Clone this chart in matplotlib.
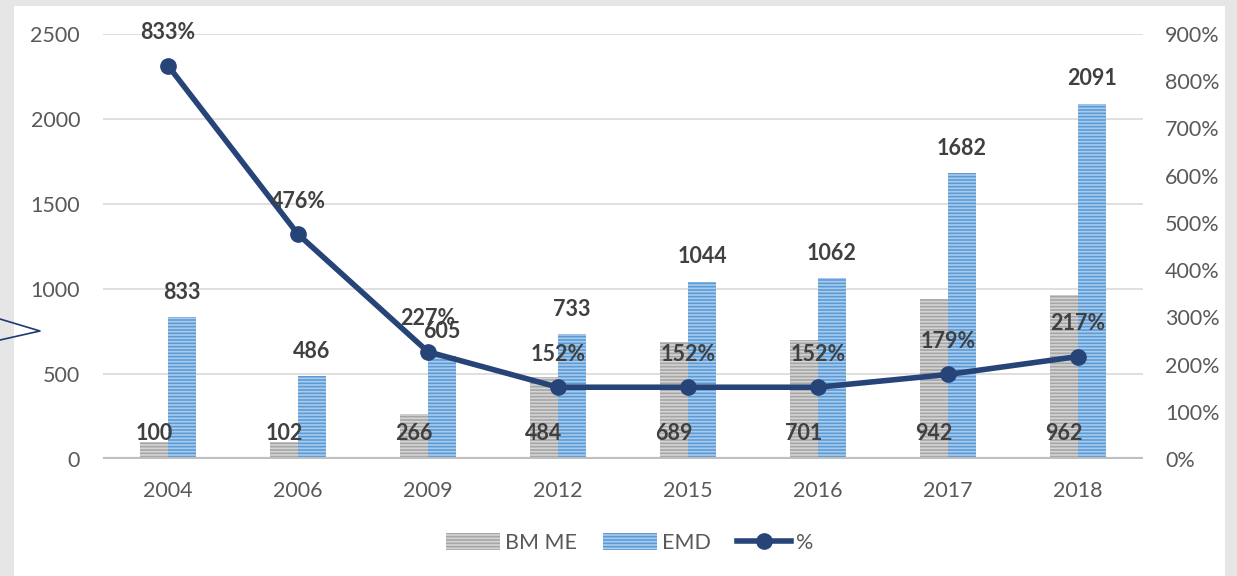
import numpy as np
import matplotlib.pyplot as plt
from matplotlib.patches import Patch, Rectangle
from matplotlib.lines import Line2D
from matplotlib.ticker import FuncFormatter

plt.rcParams['font.family'] = ['Lato', 'DejaVu Sans']
plt.rcParams['hatch.linewidth'] = 1.2

years = ['2004', '2006', '2009', '2012', '2015', '2016', '2017', '2018']
bm_me = [100, 102, 266, 484, 689, 701, 942, 962]
emd = [833, 486, 605, 733, 1044, 1062, 1682, 2091]
pct = [833, 476, 227, 152, 152, 152, 179, 217]

gray = '#a6a6a6'
blue = '#5b9bd5'
navy = '#264478'
txt = '#595959'
lab = '#404040'

fig = plt.figure(figsize=(12.37, 5.76), dpi=100, facecolor='#e6e6e6')
fig.add_artist(Rectangle((14 / 1237, 0), (1225 - 14) / 1237, 1 - 6 / 576,
                         transform=fig.transFigure, facecolor='white',
                         edgecolor='none', zorder=0))
# odd little arrow shape on the left edge
fig.add_artist(Line2D([0, 40 / 1237, 0], [1 - 319 / 576, 1 - 331 / 576, 1 - 340 / 576],
                      transform=fig.transFigure, color='#1f3a6e', lw=1.2))

ax = fig.add_axes([103 / 1237, 1 - 459 / 576, 1040 / 1237, 425 / 576])
ax.set_facecolor('none')
x = np.arange(len(years))
w = 0.215

b1 = ax.bar(x - w / 2, bm_me, w, color=gray, edgecolor='#d4d4d4', lw=0, hatch='-----', zorder=2)
b2 = ax.bar(x + w / 2, emd, w, color=blue, edgecolor='#a9cbee', lw=0, hatch='-----', zorder=2)

ax.set_xlim(-0.5, len(years) - 0.5)
ax.set_ylim(0, 2500)
ax.set_yticks(range(0, 2501, 500))
ax.set_xticks(x)
ax.set_xticklabels(years)
ax.grid(axis='y', color='#d9d9d9', lw=1.2, zorder=0)
ax.set_axisbelow(True)
for s in ax.spines.values():
    s.set_visible(False)
ax.axhline(0, color='#bfbfbf', lw=3, zorder=3)
ax.tick_params(axis='both', length=0, labelsize=15.5, colors=txt)
ax.tick_params(axis='y', pad=16.5)
ax.tick_params(axis='x', pad=16)

for xi, v in zip(x, bm_me):
    ax.annotate(str(v), (xi - w / 2, 0), xytext=(0, 26), textcoords='offset pixels',
                ha='center', va='center', fontsize=15.5, fontweight='bold', color=lab, zorder=6)
for xi, v in zip(x, emd):
    ax.annotate(str(v), (xi + w / 2, v), xytext=(0, 25), textcoords='offset pixels',
                ha='center', va='center', fontsize=15.5, fontweight='bold', color=lab, zorder=6)

ax2 = ax.twinx()
ax2.set_ylim(0, 900)
ax2.set_yticks(range(0, 901, 100))
ax2.yaxis.set_major_formatter(FuncFormatter(lambda v, p: f'{v:.0f}%'))
for s in ax2.spines.values():
    s.set_visible(False)
ax2.tick_params(axis='y', length=0, labelsize=15.5, colors=txt, pad=16)
ax2.plot(x, pct, color=navy, lw=4, marker='o', ms=11, zorder=5)
for xi, v in zip(x, pct):
    ax2.annotate(f'{v}%', (xi, v), xytext=(0, 33), textcoords='offset pixels',
                 ha='center', va='center', fontsize=15.5, fontweight='bold', color=lab, zorder=6)

handles = [Patch(facecolor=gray, edgecolor='#d4d4d4', lw=0, hatch='-----'),
           Patch(facecolor=blue, edgecolor='#a9cbee', lw=0, hatch='-----'),
           Line2D([0], [0], color=navy, lw=4, marker='o', ms=11)]
fig.legend(handles, ['BM ME', 'EMD', '%'], loc='center', bbox_to_anchor=(630 / 1237, 1 - 543 / 576),
           ncol=3, frameon=False, fontsize=15.5, labelcolor=txt, handlelength=2.5,
           handleheight=0.8, columnspacing=1.2, handletextpad=0.25)

fig.savefig('out.png', dpi=100, facecolor=fig.get_facecolor())
